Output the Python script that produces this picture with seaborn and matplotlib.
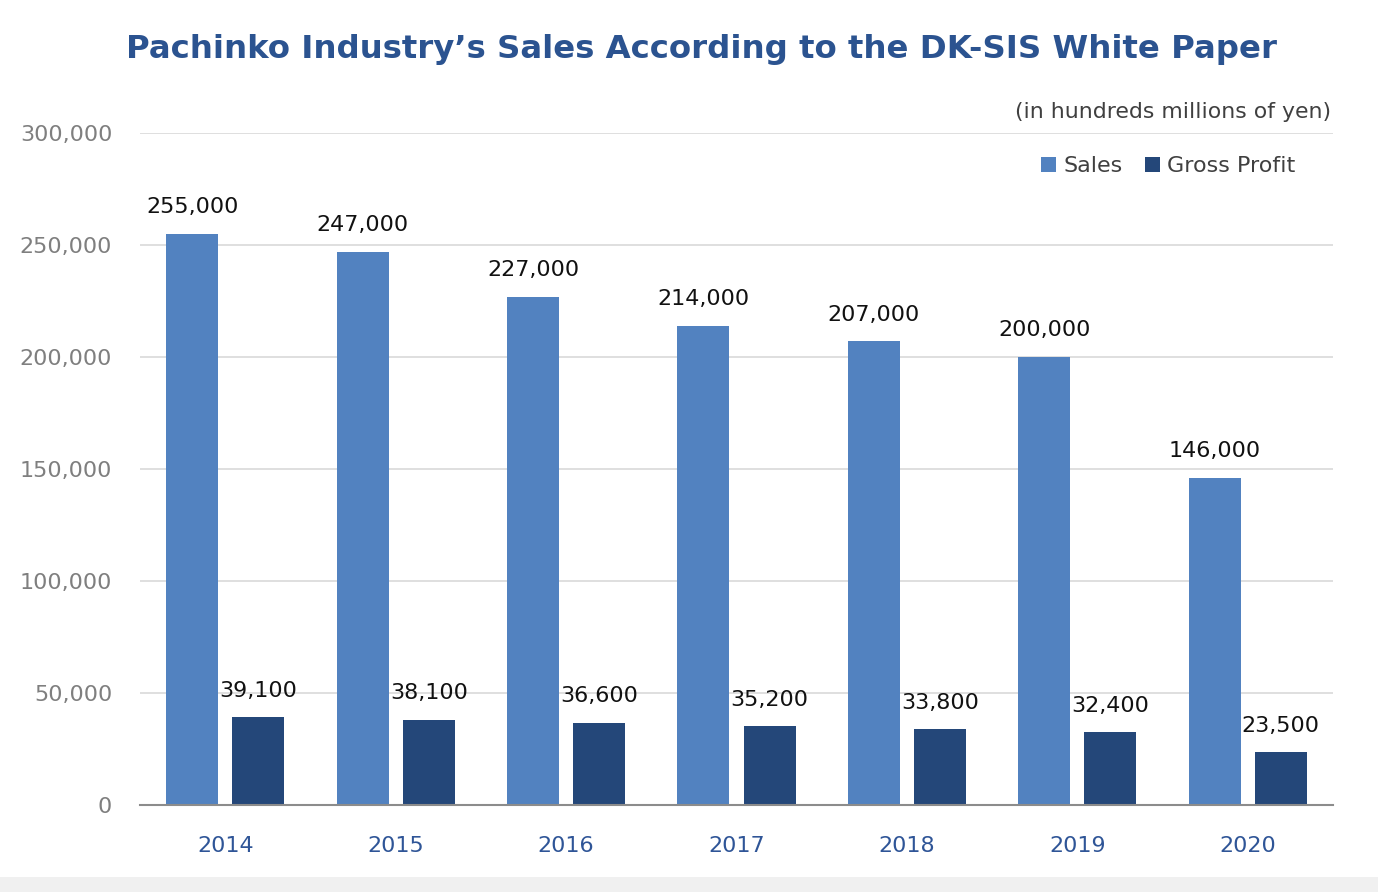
import pandas as pd
import seaborn as sns
import matplotlib.pyplot as plt
from matplotlib.patches import Rectangle
from matplotlib.ticker import FuncFormatter

# Chart values (in hundreds millions of yen)
years = ['2014', '2015', '2016', '2017', '2018', '2019', '2020']
sales = [255000, 247000, 227000, 214000, 207000, 200000, 146000]
gross_profit = [39100, 38100, 36600, 35200, 33800, 32400, 23500]
series_names = ['Sales', 'Gross Profit']
series_colors = ['#5282c0', '#244779']

# Long-form table for seaborn
df = pd.DataFrame({
    'Year': years * 2,
    'Value': sales + gross_profit,
    'Series': [series_names[0]] * len(years) + [series_names[1]] * len(years),
})

sns.set_style('white')
plt.rcParams['font.family'] = ['DejaVu Sans']

fig = plt.figure(figsize=(13.78, 8.92), dpi=100)
ax = fig.add_axes([0.1016, 0.0975, 0.8657, 0.7534])

sns.barplot(data=df, x='Year', y='Value', hue='Series', palette=series_colors,
            width=0.776, gap=0.214, saturation=1, linewidth=0, ax=ax, legend=True)

ax.set_ylim(0, 300000)
ax.set_yticks(range(0, 300001, 50000))
ax.yaxis.set_major_formatter(FuncFormatter(lambda v, p: f'{int(v):,}'))
ax.grid(axis='y', color='#d9d9d9', linewidth=1.2)
ax.set_axisbelow(True)
for side in ['top', 'right', 'left']:
    ax.spines[side].set_visible(False)
ax.spines['bottom'].set_color('#8c8c8c')
ax.spines['bottom'].set_linewidth(1.5)
ax.set_xlabel('')
ax.set_ylabel('')
ax.tick_params(axis='y', length=0, pad=20, labelsize=16, labelcolor='#7f7f7f')
ax.tick_params(axis='x', length=0, pad=22, labelsize=16, labelcolor='#2f5597')

# data labels
for cont in ax.containers:
    ax.bar_label(cont, labels=[f'{int(v):,}' for v in cont.datavalues],
                 padding=12, fontsize=16, color='#111111')

# legend
leg = ax.legend(loc='upper right', bbox_to_anchor=(0.985, 0.995), ncol=2,
                frameon=False, fontsize=16, handlelength=0.7, handleheight=0.7,
                handletextpad=0.3, columnspacing=1.0, labelcolor='#404040')

# title and units
fig.text(0.509, 0.945, 'Pachinko Industry\u2019s Sales According to the DK-SIS White Paper',
         ha='center', va='center', fontsize=23.3, fontweight='bold', color='#2b5390')
fig.text(0.966, 0.874, '(in hundreds millions of yen)', ha='right', va='center',
         fontsize=15.8, color='#404040')

# light gray strip at the bottom
fig.patches.append(Rectangle((0, 0), 1, 15 / 892, transform=fig.transFigure,
                             facecolor='#f0f0f0', edgecolor='none', zorder=0))

fig.savefig('out.png', dpi=100)
